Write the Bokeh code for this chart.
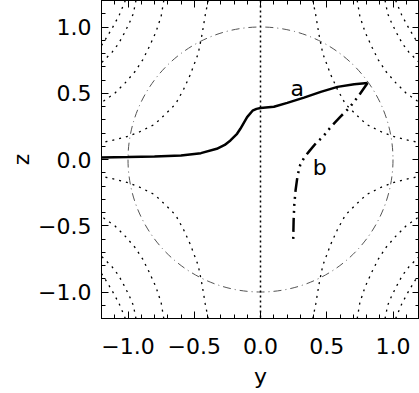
from bokeh.plotting import figure
from bokeh.models import LinearAxis, SingleIntervalTicker, Span, Range1d, Label, Title, CustomJSTickFormatter
from bokeh.embed import file_html
from bokeh.resources import INLINE

# ---- data ----
# curve a (solid)
ya = [-1.2, -1.0, -0.8, -0.6, -0.45, -0.33, -0.27, -0.227, -0.177, -0.152, -0.101, -0.06, -0.03, 0.0, 0.101, 0.202, 0.328, 0.455, 0.581, 0.707, 0.808]
za = [0.015, 0.018, 0.022, 0.03, 0.048, 0.081, 0.11, 0.144, 0.194, 0.232, 0.32, 0.368, 0.382, 0.388, 0.398, 0.427, 0.467, 0.51, 0.548, 0.568, 0.578]
# curve b (dash dot dot dot)
yb = [0.808, 0.74, 0.67, 0.60, 0.53, 0.47, 0.42, 0.37, 0.33, 0.30, 0.28, 0.265, 0.255, 0.25, 0.247]
zb = [0.578, 0.48, 0.39, 0.32, 0.245, 0.17, 0.125, 0.065, 0.015, -0.04, -0.12, -0.23, -0.34, -0.46, -0.6]

# dotted contour arcs, first quadrant (|y|, |z|); the picture is mirror symmetric
arc1_y = [0.395, 0.417, 0.44, 0.47, 0.53, 0.58, 0.64, 0.72, 0.80, 0.91, 1.0, 1.1, 1.2]
arc1_z = [1.2, 1.09, 0.95, 0.80, 0.64, 0.53, 0.42, 0.34, 0.265, 0.21, 0.175, 0.148, 0.128]
arc2_y = [0.73, 0.75, 0.79, 0.84, 0.89, 0.95, 1.02, 1.1, 1.2]
arc2_z = [1.2, 1.08, 0.96, 0.85, 0.75, 0.66, 0.58, 0.50, 0.43]
arc3_y = [0.94, 0.96, 0.99, 1.03, 1.07, 1.12, 1.2]
arc3_z = [1.2, 1.10, 1.03, 0.95, 0.876, 0.81, 0.73]
arc4_y = [1.02, 1.066, 1.106, 1.15, 1.2]
arc4_z = [1.2, 1.09, 1.015, 0.94, 0.86]

circle_radius = 1.0
tick_interval = 0.5

FONT = "DejaVu Sans"
FS = "22px"

p = figure(width=419, height=393,
           x_range=Range1d(-1.2, 1.2), y_range=Range1d(-1.2, 1.2),
           output_backend="svg", toolbar_location=None,
           min_border_left=101, min_border_right=0, min_border_top=0, min_border_bottom=75,
           x_axis_label="y")
p.xgrid.visible = False
p.ygrid.visible = False
p.outline_line_color = "black"
p.outline_line_width = 1
p.background_fill_color = "white"
p.border_fill_color = "white"

label_fmt = CustomJSTickFormatter(code="return tick.toFixed(1).replace('-', '\u2212');")
empty_fmt = CustomJSTickFormatter(code="return '';")

def style(ax, labels=True):
    ax.ticker = SingleIntervalTicker(interval=tick_interval, num_minor_ticks=5)
    ax.formatter = label_fmt if labels else empty_fmt
    ax.major_tick_in = 7
    ax.major_tick_out = 0
    ax.minor_tick_in = 4
    ax.minor_tick_out = 0
    ax.axis_line_color = "black"
    ax.major_tick_line_color = "black"
    ax.minor_tick_line_color = "black"
    ax.major_label_text_font = FONT
    ax.major_label_text_font_size = FS
    ax.major_label_text_color = "black"
    ax.axis_label_text_font = FONT
    ax.axis_label_text_font_size = FS
    ax.axis_label_text_font_style = "normal"
    ax.axis_label_text_color = "black"

style(p.xaxis[0])
style(p.yaxis[0])
p.xaxis[0].major_label_standoff = 19
p.xaxis[0].axis_label_standoff = 7
p.yaxis[0].major_label_standoff = 10

top = LinearAxis()
right = LinearAxis()
style(top, labels=False)
style(right, labels=False)
for ax in (top, right):
    ax.major_label_standoff = 0
    ax.axis_label_standoff = 0
p.add_layout(top, "above")
p.add_layout(right, "right")

# y-axis title "z" as a left-side title, pushed to the outer edge
p.add_layout(Title(text="z", align="center", vertical_align="top", standoff=0,
                   text_font=FONT, text_font_size=FS, text_font_style="normal",
                   text_color="black"), "left")

# mirrored contour arcs
xs, ys = [], []
for ay, az in [(arc1_y, arc1_z), (arc2_y, arc2_z), (arc3_y, arc3_z), (arc4_y, arc4_z)]:
    for sy in (1, -1):
        for sz in (1, -1):
            xs.append([sy * v for v in ay])
            ys.append([sz * v for v in az])
p.multi_line(xs, ys, line_color="black", line_width=1.3, line_dash="2 5")

# vertical dotted line at y=0
p.add_layout(Span(location=0, dimension="height", line_color="black",
                  line_width=1.5, line_dash="2 3"))

# unit circle
p.circle(x=[0], y=[0], radius=circle_radius, fill_color=None,
         line_color="#555555", line_width=1, line_dash="8 4 1 4")

# curves
p.line(ya, za, line_color="black", line_width=2.5)
p.line(yb, zb, line_color="black", line_width=2.5, line_dash="14 5 2 5 2 5 2 5")

p.add_layout(Label(x=0.278, y=0.535, text="a", text_font=FONT, text_font_size=FS,
                   text_color="black", text_align="center", text_baseline="middle"))
p.add_layout(Label(x=0.447, y=-0.058, text="b", text_font=FONT, text_font_size=FS,
                   text_color="black", text_align="center", text_baseline="middle"))

open("out.html", "w").write(file_html(p, INLINE))
